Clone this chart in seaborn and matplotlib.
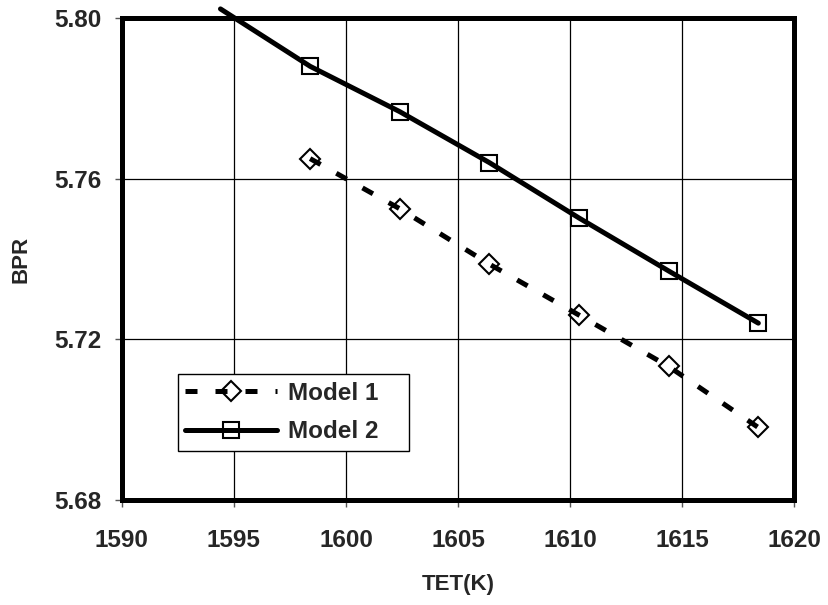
import numpy as np
import pandas as pd
import seaborn as sns
import matplotlib.pyplot as plt
from matplotlib.lines import Line2D

# values
tet1 = [1598.4, 1602.4, 1606.4, 1610.4, 1614.4, 1618.4]
bpr1 = [5.7650, 5.7525, 5.7387, 5.7260, 5.7132, 5.6980]

tet2 = [1594.4, 1598.4, 1602.4, 1606.4, 1610.4, 1614.4, 1618.4]
bpr2 = [5.8023, 5.7880, 5.7767, 5.7640, 5.7502, 5.7370, 5.7240]

x_ticks = [1590, 1595, 1600, 1605, 1610, 1615, 1620]
y_ticks = [5.68, 5.72, 5.76, 5.80]

df = pd.concat([
    pd.DataFrame({'TET': tet1, 'BPR': bpr1, 'model': 'Model 1'}),
    pd.DataFrame({'TET': tet2, 'BPR': bpr2, 'model': 'Model 2'}),
], ignore_index=True)

sns.set_style('white')
plt.rcParams['font.family'] = ['Liberation Sans', 'DejaVu Sans']
plt.rcParams['font.weight'] = 'bold'

fig = plt.figure(figsize=(8.29, 6.05), dpi=100)
ax = fig.add_axes([0.147, 0.174, 0.811, 0.796])

sns.lineplot(data=df, x='TET', y='BPR', style='model', color='black',
             dashes={'Model 1': (2.4, 3.6), 'Model 2': ''},
             markers={'Model 1': 'D', 'Model 2': 's'},
             markersize=11, markerfacecolor='none', markeredgecolor='black',
             markeredgewidth=1.5, linewidth=3.6, legend=False, ax=ax, sort=False)

# first Model 2 point sits above the plot area: keep the line, hide its marker
for ln in ax.get_lines():
    if len(ln.get_xdata()) == len(tet2):
        ln.set_clip_on(False)
        ln.set_markevery(list(range(1, len(tet2))))
        ln.set_markersize(11.5)
    else:
        ln.set_markersize(10.5)

ax.set_xlim(1590, 1620)
ax.set_ylim(5.68, 5.80)
ax.set_xticks(x_ticks)
ax.set_yticks(y_ticks)
ax.set_yticklabels([f'{v:.2f}' for v in y_ticks])
ax.grid(True, color='black', linewidth=0.9)
ax.set_axisbelow(True)

for s in ax.spines.values():
    s.set_linewidth(3.6)
    s.set_color('black')

ax.tick_params(axis='both', direction='out', length=5, width=1, color='#555555',
               labelsize=17.5, left=True, bottom=True)
ax.tick_params(axis='x', pad=16)
ax.tick_params(axis='y', pad=10)
for lab in ax.get_xticklabels() + ax.get_yticklabels():
    lab.set_fontweight('bold')

ax.set_xlabel('TET(K)', fontsize=16, fontweight='bold', labelpad=16)
ax.set_ylabel('BPR', fontsize=16, fontweight='bold', labelpad=16)

handles = [
    Line2D([], [], color='black', linewidth=3.6, dashes=(2.4, 3.6), marker='D',
           markersize=10, markerfacecolor='none', markeredgecolor='black', markeredgewidth=1.5),
    Line2D([], [], color='black', linewidth=3.6, marker='s', markersize=11,
           markerfacecolor='none', markeredgecolor='black', markeredgewidth=1.5),
]
leg = ax.legend(handles, ['Model 1', 'Model 2'], loc='lower left',
                bbox_to_anchor=(0.083, 0.102, 0.344, 0.1), mode='expand',
                borderaxespad=0, frameon=True,
                fancybox=False, edgecolor='black', framealpha=1,
                prop={'size': 17.5, 'weight': 'bold'}, handlelength=3.8,
                handletextpad=0.45, labelspacing=0.65, borderpad=0.3)
leg.get_frame().set_linewidth(1)

fig.savefig('out.png', dpi=100)
